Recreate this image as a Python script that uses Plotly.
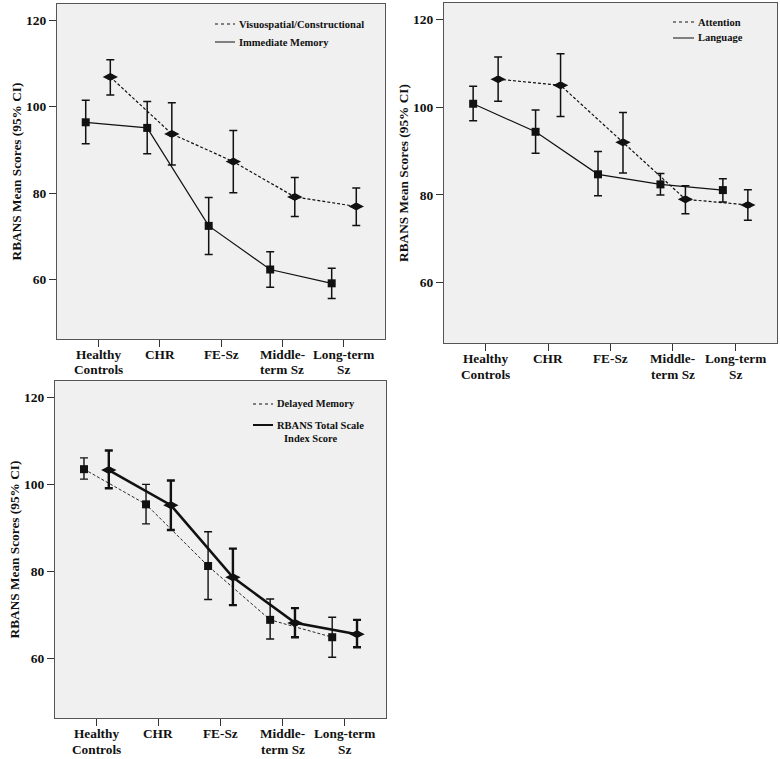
import plotly.graph_objects as go

W, H = 780, 759

# ---------------- data ----------------
categories = ["Healthy Controls", "CHR", "FE-Sz", "Middle-term Sz", "Long-term Sz"]
tick_line1 = ["Healthy", "CHR", "FE-Sz", "Middle-", "Long-term"]
tick_line2 = ["Controls", "", "", "term Sz", "Sz"]
y_ticks = [60, 80, 100, 120]

# Panel 1
imm_mean = [96.4, 95.1, 72.4, 62.3, 59.1]
imm_lo = [91.4, 89.1, 65.8, 58.2, 55.6]
imm_hi = [101.5, 101.2, 79.0, 66.4, 62.6]
vis_mean = [106.9, 93.7, 87.3, 79.1, 76.9]
vis_lo = [102.7, 86.5, 80.1, 74.6, 72.5]
vis_hi = [110.9, 100.9, 94.5, 83.6, 81.2]

# Panel 2
lang_mean = [100.8, 94.4, 84.7, 82.4, 81.1]
lang_lo = [96.9, 89.5, 79.8, 80.0, 78.4]
lang_hi = [104.8, 99.4, 89.9, 84.9, 83.7]
att_mean = [106.4, 105.0, 92.0, 79.0, 77.7]
att_lo = [101.4, 97.9, 85.0, 75.7, 74.2]
att_hi = [111.5, 112.2, 98.8, 82.1, 81.2]

# Panel 3
del_mean = [103.5, 95.4, 81.2, 68.8, 64.8]
del_lo = [101.2, 90.9, 73.5, 64.4, 60.2]
del_hi = [106.1, 100.0, 89.1, 73.6, 69.4]
tot_mean = [103.3, 95.2, 78.6, 68.1, 65.5]
tot_lo = [99.1, 89.5, 72.2, 64.8, 62.5]
tot_hi = [107.8, 100.9, 85.2, 71.5, 68.8]

legend1 = ["Visuospatial/Constructional", "Immediate Memory"]
legend2 = ["Attention", "Language"]
legend3 = ["Delayed Memory", "RBANS Total Scale", "Index Score"]
y_title = "RBANS Mean Scores (95% CI)"

# ---------------- style ----------------
FONT = "Liberation Serif"
BG = "#f0f0f0"
BORDER = "#555555"
INK = "#111111"


def px_x(a, b):
    return [a / W, b / W]


def px_y(top, bottom):
    return [1 - bottom / H, 1 - top / H]


panels = [
    dict(ax="", x=px_x(57, 385), y=px_y(4, 339), bottom=339),
    dict(ax="2", x=px_x(444, 777), y=px_y(3, 343), bottom=343),
    dict(ax="3", x=px_x(55, 386), y=px_y(381, 718), bottom=718),
]


def err(mean, lo, hi):
    return dict(type="data", symmetric=False,
                array=[h - m for m, h in zip(mean, hi)],
                arrayminus=[m - l for m, l in zip(mean, lo)])


fig = go.Figure()


def add_series(ax, mean, lo, hi, group, symbol, dash, lw, ew, ethick):
    e = err(mean, lo, hi)
    e.update(color=INK, thickness=ethick, width=ew)
    fig.add_trace(go.Scatter(
        x=categories, y=mean, xaxis="x" + ax, yaxis="y" + ax,
        mode="lines+markers", offsetgroup=group,
        line=dict(color=INK, width=lw, dash=dash),
        marker=dict(symbol=symbol, size=(8 if symbol == "square" else 11), color=INK),
        error_y=e, showlegend=False, hoverinfo="skip"))
    if symbol != "square":
        fig.add_trace(go.Scatter(
            x=categories, y=mean, xaxis="x" + ax, yaxis="y" + ax,
            mode="markers", offsetgroup=group,
            marker=dict(symbol="circle", size=6.5, color=INK),
            showlegend=False, hoverinfo="skip"))


DASH = "3px,2px"
add_series("", imm_mean, imm_lo, imm_hi, "a", "square", "solid", 1.2, 4, 1.5)
add_series("", vis_mean, vis_lo, vis_hi, "b", "diamond-wide", DASH, 1.2, 4, 1.5)
add_series("2", lang_mean, lang_lo, lang_hi, "a", "square", "solid", 1.2, 4, 1.5)
add_series("2", att_mean, att_lo, att_hi, "b", "diamond-wide", DASH, 1.2, 4, 1.5)
add_series("3", del_mean, del_lo, del_hi, "a", "square", DASH, 0.9, 4, 1.4)
add_series("3", tot_mean, tot_lo, tot_hi, "b", "diamond-wide", "solid", 2.6, 4, 2.4)

layout = dict(
    width=W, height=H,
    margin=dict(l=0, r=0, t=0, b=0),
    paper_bgcolor="white", plot_bgcolor=BG,
    scattermode="group", scattergap=0.2,
    font=dict(family=FONT, color=INK),
    showlegend=False,
)

annotations = []
shapes = []
for p in panels:
    ax = p["ax"]
    layout["xaxis" + ax] = dict(
        domain=p["x"], anchor="y" + ax, type="category",
        categoryorder="array", categoryarray=categories,
        range=[-0.667, 4.667], showgrid=False, zeroline=False,
        showline=True, mirror=True, linecolor=BORDER, linewidth=1.2,
        ticks="outside", ticklen=7, tickcolor="#333333", tickwidth=1.2,
        showticklabels=False, fixedrange=True)
    layout["yaxis" + ax] = dict(
        domain=p["y"], anchor="x" + ax, range=[46.2, 123.8],
        tickvals=y_ticks, showgrid=False, zeroline=False,
        showline=True, mirror=True, linecolor=BORDER, linewidth=1.2,
        ticks="outside", ticklen=7, tickcolor="#333333", tickwidth=1.2,
        tickfont=dict(family=FONT, size=13.5, color=INK, weight="bold"),
        title=dict(text=y_title, standoff=1,
                   font=dict(family=FONT, size=13.3, color=INK, weight="bold")),
        fixedrange=True)
    b = p["bottom"]
    for c, l1, l2 in zip(categories, tick_line1, tick_line2):
        annotations.append(dict(x=c, xref="x" + ax, y=1 - (b + 15) / H, yref="paper",
                                text="<b>%s</b>" % l1, showarrow=False,
                                xanchor="center", yanchor="middle", borderpad=0,
                                font=dict(family=FONT, size=13.3, color=INK)))
        if l2:
            annotations.append(dict(x=c, xref="x" + ax, y=1 - (b + 31) / H, yref="paper",
                                    text="<b>%s</b>" % l2, showarrow=False,
                                    xanchor="center", yanchor="middle", borderpad=0,
                                    font=dict(family=FONT, size=13.3, color=INK)))


def legend_item(x0, x1, y, text, dash, lw):
    shapes.append(dict(type="line", xref="paper", yref="paper",
                       x0=x0 / W, x1=x1 / W, y0=1 - y / H, y1=1 - y / H,
                       line=dict(color=INK, width=lw, dash=dash)))
    annotations.append(dict(x=(x1 + 3) / W, xref="paper", y=1 - y / H, yref="paper",
                            text="<b>%s</b>" % text, showarrow=False,
                            xanchor="left", yanchor="middle", borderpad=0,
                            font=dict(family=FONT, size=10.5, color=INK)))


legend_item(215, 235, 24, legend1[0], "dot", 1)
legend_item(215, 235, 42, legend1[1], "solid", 1)
legend_item(673, 694, 22, legend2[0], "dot", 1)
legend_item(673, 694, 38, legend2[1], "solid", 1)
legend_item(253, 273, 404, legend3[0], "dot", 1)
legend_item(253, 273, 425, legend3[1], "solid", 2)
annotations.append(dict(x=283 / W, xref="paper", y=1 - 438 / H, yref="paper",
                        text="<b>%s</b>" % legend3[2], showarrow=False,
                        xanchor="left", yanchor="middle", borderpad=0,
                        font=dict(family=FONT, size=10.5, color=INK)))

layout["annotations"] = annotations
layout["shapes"] = shapes
fig.update_layout(**layout)

fig.write_html("out.html", config={"displayModeBar": False},
               post_script="document.body.style.margin='0';")
